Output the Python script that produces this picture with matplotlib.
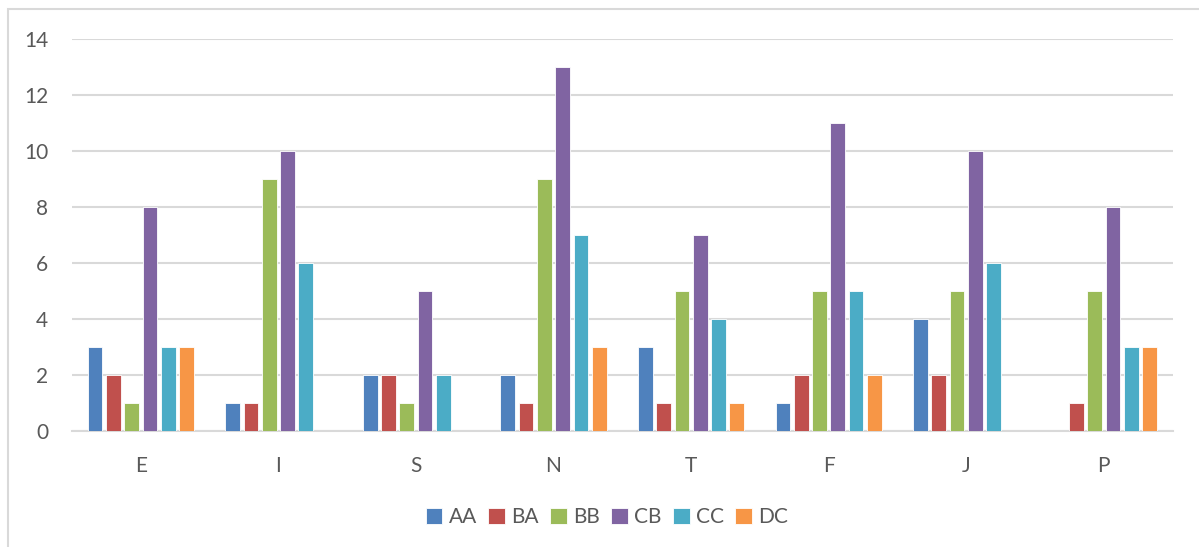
import numpy as np
import matplotlib
matplotlib.use("Agg")
import matplotlib.pyplot as plt
from matplotlib.patches import Rectangle

plt.rcParams['font.family'] = ['Lato', 'DejaVu Sans']

categories = ["E", "I", "S", "N", "T", "F", "J", "P"]
series_names = ["AA", "BA", "BB", "CB", "CC", "DC"]
aa = [3, 1, 2, 2, 3, 1, 4, 0]
ba = [2, 1, 2, 1, 1, 2, 2, 1]
bb = [1, 9, 1, 9, 5, 5, 5, 5]
cb = [8, 10, 5, 13, 7, 11, 10, 8]
cc = [3, 6, 2, 7, 4, 5, 6, 3]
dc = [3, 0, 0, 3, 1, 2, 0, 3]
colors = ["#4F81BD", "#C0504D", "#9BBB59", "#8064A2", "#4BACC6", "#F79646"]

values = [aa, ba, bb, cb, cc, dc]
text_color = "#595959"
grid_color = "#D9D9D9"

fig = plt.figure(figsize=(11.99, 5.47), dpi=100)
ax = fig.add_axes([0.060, 0.2121, 0.918, 0.7166])

# chart frame
fig.patches.append(Rectangle((8 / 1199, -0.01), 1.05, 1 - 9 / 547 + 0.01,
                             transform=fig.transFigure, fill=False,
                             edgecolor=grid_color, linewidth=1.5))

x = np.arange(len(categories))
slot = 0.133
width = 0.107
for i, (name, vals) in enumerate(zip(series_names, values)):
    offs = (i - 2.5) * slot
    ax.bar(x + offs, vals, width, color=colors[i], label=name,
           edgecolor="white", linewidth=0.6, zorder=3)

ax.set_xlim(-0.5, len(categories) - 0.5)
ax.set_ylim(0, 14)
ax.set_yticks(range(0, 15, 2))
ax.set_xticks(x)
ax.set_xticklabels(categories)
ax.grid(axis="y", color=grid_color, linewidth=1.5, zorder=0)
for side in ["top", "right", "left"]:
    ax.spines[side].set_visible(False)
ax.spines["bottom"].set_color(grid_color)
ax.spines["bottom"].set_linewidth(1.5)
ax.tick_params(axis="both", length=0, labelsize=15, colors=text_color)
ax.tick_params(axis="x", pad=18)
ax.tick_params(axis="y", pad=17)

leg = fig.legend(loc="center", bbox_to_anchor=(607 / 1199, 0.054), ncol=6,
                 frameon=False, fontsize=15, handlelength=0.8,
                 handleheight=0.8, handletextpad=0.3, columnspacing=0.55)
for t in leg.get_texts():
    t.set_color(text_color)

fig.savefig("out.png", dpi=100)
